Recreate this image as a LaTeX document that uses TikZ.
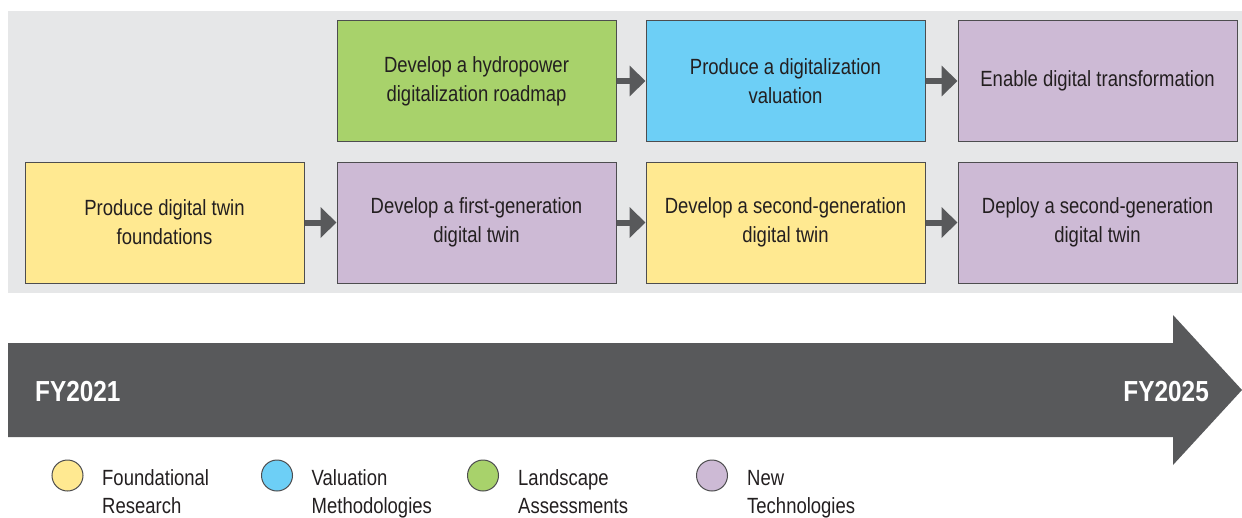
\documentclass[tikz,border=0pt]{standalone}
\usepackage{fontspec}
\setmainfont{Liberation Sans}[FakeStretch=0.84]
\usetikzlibrary{arrows.meta}
\definecolor{panel}{HTML}{E6E7E8}
\definecolor{yel}{HTML}{FFE991}
\definecolor{pur}{HTML}{CDBAD5}
\definecolor{grn}{HTML}{A8D26B}
\definecolor{blu}{HTML}{6DCFF6}
\definecolor{dark}{HTML}{58595B}
\definecolor{boxline}{HTML}{4D4D4F}
\definecolor{txt}{HTML}{231F20}
\begin{document}
\begin{tikzpicture}[x=1pt,y=-1pt,
  box/.style={draw=boxline, line width=1pt, minimum width=279pt, minimum height=121pt,
    inner sep=0pt, align=center, font=\fontsize{22}{29}\selectfont, text=txt},
  link/.style={draw=dark, line width=6pt, -{Triangle[length=16pt,width=30pt]}},
  legdot/.style={circle, draw=boxline, line width=1pt, minimum size=31pt, inner sep=0pt},
  legtxt/.style={anchor=base west, inner sep=0pt, align=left, font=\fontsize{22}{28}\selectfont, text=txt},
  fy/.style={inner sep=0pt, font=\fontsize{29}{29}\selectfont\bfseries, text=white}]
\useasboundingbox (0,0) rectangle (1242,517);
\fill[white] (0,0) rectangle (1242,517);
\fill[panel] (8,11) rectangle (1242,293);
% boxes
\node[box, fill=grn] (t2) at (476.5,81) {Develop a hydropower\\digitalization roadmap};
\node[box, fill=blu] (t3) at (785.5,81) {Produce a digitalization\\valuation};
\node[box, fill=pur] (t4) at (1097.5,81) {Enable digital transformation};
\node[box, fill=yel] (b1) at (164.5,222.5) {Produce digital twin\\foundations};
\node[box, fill=pur] (b2) at (476.5,222.5) {Develop a first-generation\\digital twin};
\node[box, fill=yel] (b3) at (785.5,222.5) {Develop a second-generation\\digital twin};
\node[box, fill=pur] (b4) at (1097.5,222.5) {Deploy a second-generation\\digital twin};
% connectors
\draw[link] (t2.east) -- (t3.west);
\draw[link] (t3.east) -- (t4.west);
\draw[link] (b1.east) -- (b2.west);
\draw[link] (b2.east) -- (b3.west);
\draw[link] (b3.east) -- (b4.west);
% timeline arrow
\fill[dark] (8,343) -- (1173,343) -- (1173,315) -- (1242,390) -- (1173,465) -- (1173,437) -- (8,437) -- cycle;
\node[fy, anchor=base west] (fy1) at (35,401) {FY2021};
\node[fy, anchor=base east] (fy2) at (1209,401) {FY2025};
% legend
\node[legdot, fill=yel] (l1) at (67.5,475.5) {};
\node[legtxt] (l1t) at (102,513) {Foundational\\Research};
\node[legdot, fill=blu] (l2) at (277,475.5) {};
\node[legtxt] (l2t) at (311.5,513) {Valuation\\Methodologies};
\node[legdot, fill=grn] (l3) at (483,475.5) {};
\node[legtxt] (l3t) at (518,513) {Landscape\\Assessments};
\node[legdot, fill=pur] (l4) at (712,475.5) {};
\node[legtxt] (l4t) at (747,513) {New\\Technologies};
\end{tikzpicture}
\end{document}
